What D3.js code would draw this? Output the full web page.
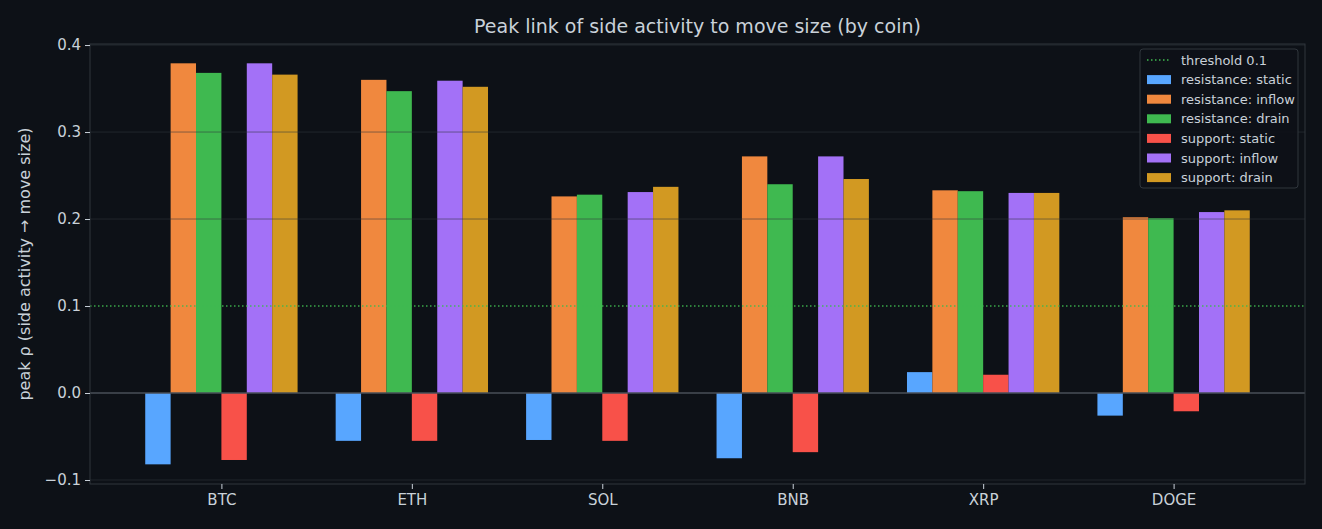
<!DOCTYPE html>
<html><head><meta charset="utf-8">
<script src="https://cdn.jsdelivr.net/npm/d3@7"></script>
<style>
html,body{margin:0;padding:0;background:#0d1117;}
svg{display:block;font-family:"DejaVu Sans",sans-serif;}
</style></head>
<body><svg id="c" width="1322" height="529"></svg>
<script>
const coins = ["BTC","ETH","SOL","BNB","XRP","DOGE"];
const seriesNames = ["resistance: static","resistance: inflow","resistance: drain","support: static","support: inflow","support: drain"];
const resStatic  = [-0.082,-0.055,-0.054,-0.075, 0.024,-0.026];
const resInflow  = [ 0.379, 0.360, 0.226, 0.272, 0.233, 0.202];
const resDrain   = [ 0.368, 0.347, 0.228, 0.240, 0.232, 0.201];
const supStatic  = [-0.077,-0.055,-0.055,-0.068, 0.021,-0.021];
const supInflow  = [ 0.379, 0.359, 0.231, 0.272, 0.230, 0.208];
const supDrain   = [ 0.366, 0.352, 0.237, 0.246, 0.230, 0.210];
const yTicks = [-0.1,0.0,0.1,0.2,0.3,0.4];
const threshold = 0.1;
const colors = ["#58a6ff","#f0883e","#3fb950","#f85149","#a371f7","#d29922"];
const allSeries = [resStatic,resInflow,resDrain,supStatic,supInflow,supDrain];

const svg = d3.select("#c");
const L=90,R=1305,T=44,B=484;
svg.append("rect").attr("width",1322).attr("height",529).attr("fill","#0d1117");

const x = d3.scaleLinear().domain([-0.69,5.69]).range([L,R]);
const y = d3.scaleLinear().domain([-0.1046,0.4012]).range([B,T]);
const groupW = 0.8, bw = groupW/6;

// bars
allSeries.forEach((vals,si)=>{
  svg.append("g").selectAll("rect").data(vals).enter().append("rect")
    .attr("x",(d,i)=>x(i-groupW/2+si*bw))
    .attr("width",x(bw)-x(0))
    .attr("y",d=>y(Math.max(0,d)))
    .attr("height",d=>Math.abs(y(d)-y(0)))
    .attr("fill",colors[si]);
});

// grid
svg.append("g").selectAll("line").data(yTicks.filter(t=>t!==0 && t!==threshold)).enter().append("line")
  .attr("x1",L).attr("x2",R).attr("y1",d=>y(d)).attr("y2",d=>y(d))
  .attr("stroke","#30363d").attr("stroke-opacity",0.7).attr("stroke-width",0.8);

// zero line
svg.append("line").attr("x1",L).attr("x2",R).attr("y1",y(0)).attr("y2",y(0))
  .attr("stroke","#484f58").attr("stroke-width",1.5);

// threshold
svg.append("line").attr("x1",L).attr("x2",R).attr("y1",y(threshold)).attr("y2",y(threshold))
  .attr("stroke","#3fb950").attr("stroke-width",1.5).attr("stroke-dasharray","1.5,2.5").attr("opacity",0.9);

// frame
svg.append("rect").attr("x",L).attr("y",T).attr("width",R-L).attr("height",B-T)
  .attr("fill","none").attr("stroke","#30363d").attr("stroke-width",1);

// axes
const yAxis = d3.axisLeft(y).tickValues(yTicks).tickSize(5).tickPadding(4)
  .tickFormat(d=>d3.format(".1f")(d).replace("-","\u2212"));
const gy = svg.append("g").attr("transform",`translate(${L},0)`).call(yAxis);
gy.select(".domain").remove();
gy.selectAll("line").attr("stroke","#c9d1d9");
gy.selectAll("text").attr("fill","#c9d1d9").style("font-size","15px").style("font-family","DejaVu Sans");

const xAxis = d3.axisBottom(x).tickValues(d3.range(coins.length)).tickSize(5).tickPadding(5)
  .tickFormat(i=>coins[i]);
const gx = svg.append("g").attr("transform",`translate(0,${B})`).call(xAxis);
gx.select(".domain").remove();
gx.selectAll("line").attr("stroke","#c9d1d9");
gx.selectAll("text").attr("fill","#c9d1d9").style("font-size","15px").style("font-family","DejaVu Sans");

// title
svg.append("text").attr("x",(L+R)/2).attr("y",33).attr("text-anchor","middle")
  .attr("fill","#c9d1d9").style("font-size","19px").text("Peak link of side activity to move size (by coin)");

// y label
svg.append("text").attr("transform",`translate(30,${(T+B)/2}) rotate(-90)`).attr("text-anchor","middle")
  .attr("fill","#c9d1d9").style("font-size","16px").text("peak \u03c1 (side activity \u2192 move size)");

// legend
const lg = svg.append("g").attr("transform","translate(1140,49)");
lg.append("rect").attr("width",158).attr("height",139).attr("rx",3)
  .attr("fill","#0d1117").attr("fill-opacity",0.9).attr("stroke","#30363d");
const items = [{label:"threshold "+threshold, line:true}].concat(seriesNames.map((n,i)=>({label:n,color:colors[i]})));
items.forEach((it,i)=>{
  const cy = 11 + i*19.6;
  if(it.line){
    lg.append("line").attr("x1",7).attr("x2",31).attr("y1",cy).attr("y2",cy)
      .attr("stroke","#3fb950").attr("stroke-width",1.5).attr("stroke-dasharray","1.5,2.5");
  } else {
    lg.append("rect").attr("x",7).attr("y",cy-4.5).attr("width",24).attr("height",9).attr("fill",it.color);
  }
  lg.append("text").attr("x",41).attr("y",cy+4.5).attr("fill","#c9d1d9").style("font-size","13px").text(it.label);
});
</script></body></html>
